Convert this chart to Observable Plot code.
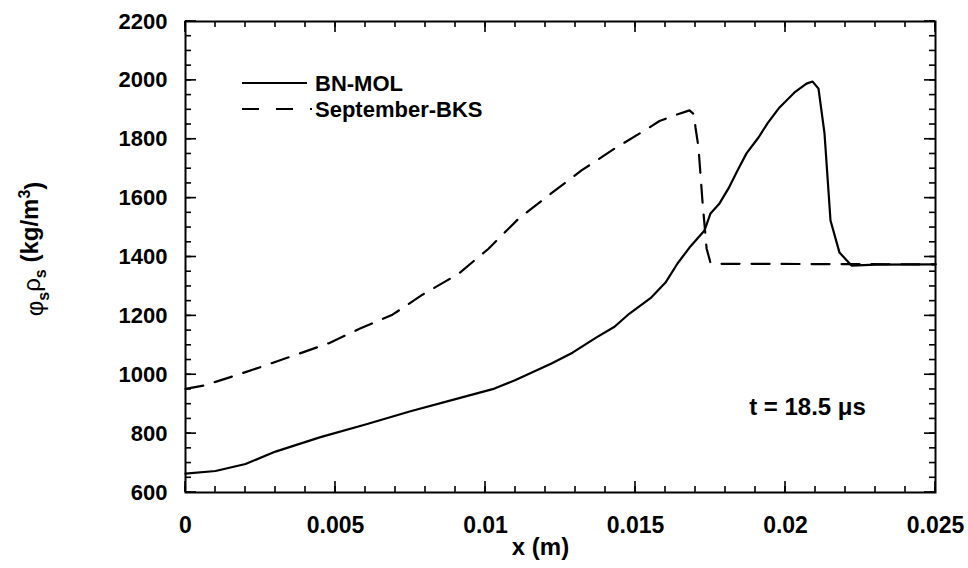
<!DOCTYPE html>
<html><head><meta charset="utf-8">
<script src="https://cdn.jsdelivr.net/npm/d3@7"></script>
<script src="https://cdn.jsdelivr.net/npm/@observablehq/plot@0.6"></script>
<style>
body{margin:0;background:#fff;}
#chart svg{display:block;}
</style></head><body><div id="chart"></div>
<script>
// ---- data ----
const seriesNames = ["BN-MOL", "September-BKS"];
const bnX = [0, 0.001, 0.002, 0.003, 0.0045, 0.006, 0.0075, 0.009, 0.0103, 0.011, 0.0122, 0.0129, 0.0137, 0.0143, 0.0148, 0.0155, 0.016, 0.0164, 0.0168, 0.0173, 0.0175, 0.0178, 0.0181, 0.0184, 0.0187, 0.0191, 0.0194, 0.0198, 0.0203, 0.0207, 0.0209, 0.0211, 0.0213, 0.0215, 0.0218, 0.0222, 0.023, 0.025];
const bnY = [664, 673, 697, 739, 788, 831, 876, 917, 953, 982, 1038, 1075, 1127, 1163, 1208, 1260, 1313, 1378, 1432, 1490, 1548, 1582, 1633, 1694, 1752, 1806, 1854, 1908, 1959, 1989, 1996, 1972, 1820, 1524, 1415, 1371, 1374, 1375];
const sbX = [0, 0.0006, 0.0015, 0.0025, 0.0036, 0.0048, 0.0058, 0.0069, 0.0079, 0.0091, 0.0101, 0.0111, 0.0121, 0.0132, 0.0143, 0.0154, 0.0158, 0.0163, 0.0168, 0.01695, 0.0170, 0.0171, 0.01723, 0.01737, 0.0175, 0.0177, 0.025];
const sbY = [952, 963, 992, 1026, 1065, 1108, 1156, 1204, 1272, 1343, 1428, 1530, 1609, 1694, 1768, 1836, 1862, 1881, 1898, 1885, 1840, 1772, 1592, 1429, 1380, 1377, 1375];
const xTicks = [0, 0.005, 0.01, 0.015, 0.02, 0.025];
const xTickLabels = ["0", "0.005", "0.01", "0.015", "0.02", "0.025"];
const yTicks = [600, 800, 1000, 1200, 1400, 1600, 1800, 2000, 2200];
const xMinorStep = 0.001;
const yMinorStep = 50;
const annotationText = "t = 18.5 μs";
const xLabel = "x (m)";

(function () {
// ---- layout ----
const W = 968, H = 568;
const mL = 185, mR = 33, mT = 21, mB = 76;
const majorLen = 11, minorLen = 6;
const font = "'Liberation Sans', Arial, Helvetica, sans-serif";
const xDom = [0, 0.025], yDom = [600, 2200];

const bn = bnX.map((x, i) => ({x, y: bnY[i]}));
const sb = sbX.map((x, i) => ({x, y: sbY[i]}));
const xMinor = d3.range(0, 26).map(i => +(i * xMinorStep).toFixed(4));
const yMinor = d3.range(600, 2201, yMinorStep);

const plot = Plot.plot({
  width: W, height: H,
  marginLeft: mL, marginRight: mR, marginTop: mT, marginBottom: mB,
  style: {fontFamily: font, fontWeight: "bold", fontSize: "22px", background: "#fff", color: "#000"},
  x: {domain: xDom},
  y: {domain: yDom},
  marks: [
    Plot.frame({stroke: "#000", fill: "none", strokeWidth: 2}),
    Plot.axisX(xTicks, {tickSize: 0, tickPadding: 24, fontSize: 23, fontWeight: "bold",
      tickFormat: d => xTickLabels[xTicks.indexOf(d)], label: null}),
    Plot.axisY(yTicks, {tickSize: 0, tickPadding: 18, fontSize: 22, fontWeight: "bold",
      tickFormat: d => String(d), label: null}),
    Plot.line(bn, {x: "x", y: "y", stroke: "#000", strokeWidth: 2.2, curve: "linear"}),
    Plot.line(sb, {x: "x", y: "y", stroke: "#000", strokeWidth: 2.2, strokeDasharray: "18,12", curve: "linear"}),
    Plot.text([annotationText], {frameAnchor: "bottom-right", dx: -128, dy: -78, textAnchor: "middle",
      fontSize: 24, fontWeight: "bold", fill: "#000"}),
    Plot.text([xLabel], {frameAnchor: "bottom", dx: -20, dy: 62, textAnchor: "middle", fontSize: 24, fontWeight: "bold", fill: "#000"}),
    Plot.text(["YLABEL"], {frameAnchor: "left", rotate: -90, dx: -150, dy: -8, textAnchor: "middle", fontSize: 24, fontWeight: "bold", fill: "#000"})
  ]
});

document.getElementById("chart").appendChild(plot);
const svg = d3.select(plot);

// inward ticks on all four sides, placed through the plot's own scales
try {
  const sx = plot.scale("x"), sy = plot.scale("y");
  const X = v => sx.apply(v), Y = v => sy.apply(v);
  const fLeft = X(xDom[0]), fRight = X(xDom[1]), fBottom = Y(yDom[0]), fTop = Y(yDom[1]);
  const tg = svg.append("g").attr("stroke", "#000").attr("stroke-width", 1.6);
  const drawTicks = (xs, ys, len) => {
    for (const v of xs) {
      tg.append("line").attr("x1", X(v)).attr("x2", X(v)).attr("y1", fBottom).attr("y2", fBottom - len);
      tg.append("line").attr("x1", X(v)).attr("x2", X(v)).attr("y1", fTop).attr("y2", fTop + len);
    }
    for (const v of ys) {
      tg.append("line").attr("y1", Y(v)).attr("y2", Y(v)).attr("x1", fLeft).attr("x2", fLeft + len);
      tg.append("line").attr("y1", Y(v)).attr("y2", Y(v)).attr("x1", fRight).attr("x2", fRight - len);
    }
  };
  drawTicks(xMinor, yMinor, minorLen);
  drawTicks(xTicks, yTicks, majorLen);
} catch (e) { console.error(e); }

// y label with sub/superscripts
svg.selectAll("text").filter(function() { return this.textContent === "YLABEL"; }).each(function() {
  const t = d3.select(this);
  t.text(null);
  t.append("tspan").attr("font-weight", "normal").text("φ");
  t.append("tspan").attr("font-size", "16px").attr("dy", "0.35em").text("s");
  t.append("tspan").attr("font-weight", "normal").attr("dy", "-0.35em").text("ρ");
  t.append("tspan").attr("font-size", "16px").attr("dy", "0.35em").text("s");
  t.append("tspan").attr("dy", "-0.35em").text(" (kg/m");
  t.append("tspan").attr("font-size", "16px").attr("dy", "-0.5em").text("3");
  t.append("tspan").attr("dy", "0.5em").text(")");
});

// legend inside the plot (upper left)
const lg = svg.append("g").attr("font-family", font).attr("font-weight", "bold")
  .attr("font-size", "22px").attr("text-anchor", "start");
lg.append("line").attr("x1", 242).attr("x2", 307).attr("y1", 83).attr("y2", 83)
  .attr("stroke", "#000").attr("stroke-width", 2);
lg.append("text").attr("x", 315).attr("y", 91).text(seriesNames[0]);
lg.append("line").attr("x1", 242).attr("x2", 312).attr("y1", 109).attr("y2", 109)
  .attr("stroke", "#000").attr("stroke-width", 2).attr("stroke-dasharray", "17,17");
lg.append("text").attr("x", 315).attr("y", 117).text(seriesNames[1]);
})();
</script>
</body></html>
